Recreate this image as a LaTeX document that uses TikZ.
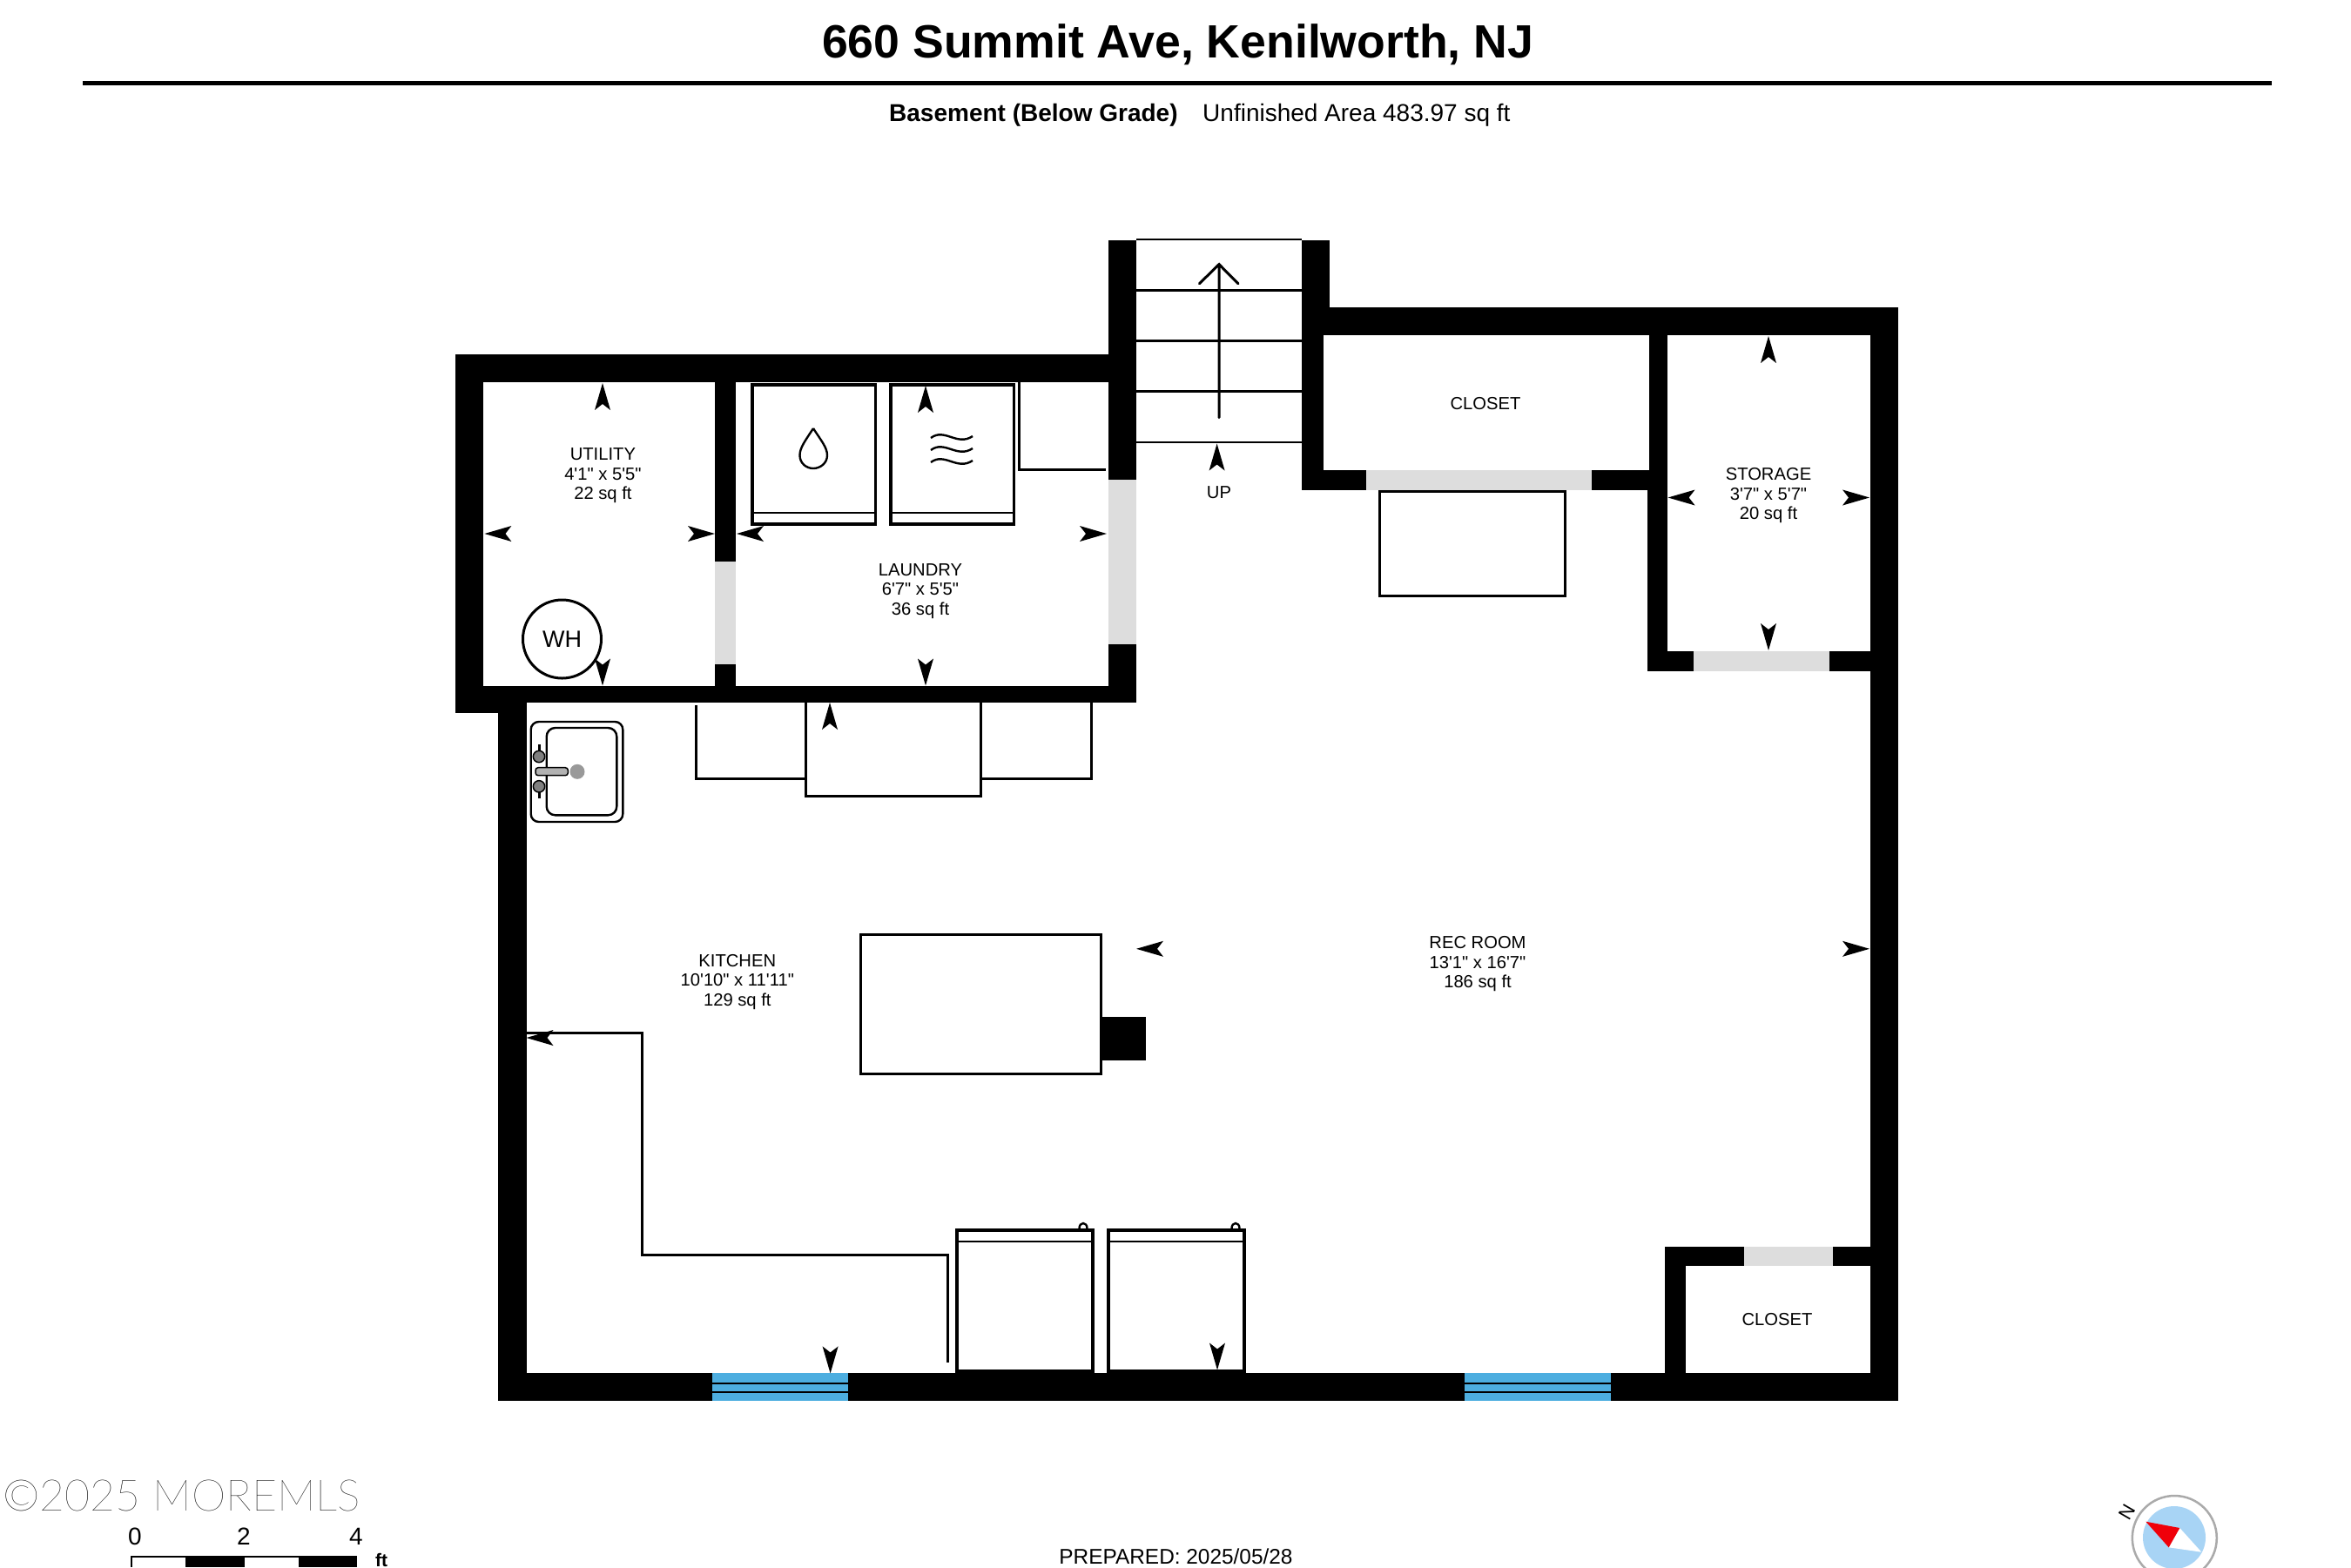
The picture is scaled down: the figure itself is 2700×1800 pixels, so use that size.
\documentclass[tikz,border=0pt]{standalone}
\usepackage{fontspec}
\setmainfont[Ligatures=TeXOff]{Liberation Sans}
\newfontfamily\thinfont{Lato Hairline}
\usetikzlibrary{calc}
\usetikzlibrary{positioning}
\definecolor{wallblack}{RGB}{0, 0, 0}
\definecolor{doorgray}{RGB}{221, 221, 221}
\definecolor{windowblue}{RGB}{77, 174, 224}
\definecolor{compassblue}{RGB}{168, 212, 245}
\definecolor{compassrim}{RGB}{170, 170, 170}
\definecolor{needlered}{RGB}{240, 0, 10}
\tikzset{
    wall/.style={fill=wallblack},
    door/.style={fill=doorgray},
    glass/.style={fill=windowblue},
    fixture/.style={draw=black, line width=3pt},
    hairline/.style={draw=black, line width=2.4pt},
    roomlabel/.style={align=center, inner sep=0pt, font=\fontsize{20.2}{22.5}\selectfont},
    dimtip/.pic={\fill[black] (0,0) -- (-31,9) -- (-24,0) -- (-31,-9) -- cycle;}
}
\begin{document}
\begin{tikzpicture}[x=1pt, y=-1pt]
            \useasboundingbox (0,0) rectangle (2700,1800);
            \fill[white]                    (0,0)           rectangle (2700,1800);
            \node[font=\fontsize{53.6}{60}\bfseries\selectfont] (title) at (1352.6,51) {660 Summit Ave, Kenilworth, NJ};
            \fill[black]                    (94.7,93.2)     rectangle (2609,97.8);
            \node[anchor=west, inner sep=0pt, font=\fontsize{28}{32}\bfseries\selectfont] (level) at (1021,132.5) {Basement (Below Grade)};
            \node[anchor=west, inner sep=0pt, font=\fontsize{28}{32}\selectfont] (area) at (1381,132.5) {Unfinished Area 483.97 sq ft};
            \fill[wall]                     (522.8,406.7)   rectangle (1305,438.8);
            \fill[wall]                     (522.8,406.7)   rectangle (555.3,818.8);
            \fill[wall]                     (522.8,787.5)   rectangle (1304.5,806.7);
            \fill[wall]                     (522.8,787.5)   rectangle (604.5,818.8);
            \fill[wall]                     (821,438.8)     rectangle (845,787.5);
            \fill[wall]                     (1273,276)      rectangle (1305,806.7);
            \fill[wall]                     (572,806)       rectangle (604.5,1608.7);
            \fill[wall]                     (572,1577)      rectangle (2179.7,1608.7);
            \fill[wall]                     (2147.7,353)    rectangle (2179.7,1608.7);
            \fill[wall]                     (1495,353)      rectangle (2179.7,385);
            \fill[wall]                     (1495,276)      rectangle (1527.4,353);
            \fill[wall]                     (1495,353)      rectangle (1520,563);
            \fill[wall]                     (1495,540)      rectangle (1915,563);
            \fill[wall]                     (1894,385)      rectangle (1915,540);
            \fill[wall]                     (1892,540)      rectangle (1915,770.5);
            \fill[wall]                     (1892,747.5)    rectangle (2147.7,770.5);
            \fill[wall]                     (1912,1431.7)   rectangle (1936,1577);
            \fill[wall]                     (1912,1431.7)   rectangle (2147.7,1454.3);
            \fill[wall]                     (1264.7,1167.5) rectangle (1316.4,1217.6);
            \fill[door]                     (821,645)       rectangle (845,763.4);
            \fill[door]                     (1273,551)      rectangle (1305,740);
            \fill[door]                     (1569,540)      rectangle (1828,563);
            \fill[door]                     (1945,747.5)    rectangle (2101,770.5);
            \fill[door]                     (2003,1431.7)   rectangle (2105,1454.3);
            \fill[glass]                    (817.5,1577)    rectangle (973.7,1608.7);
            \fill[glass]                    (1682.2,1577)   rectangle (1849.5,1608.7);
            \draw[hairline] (817.5,1589) -- (973.7,1589) (817.5,1599) -- (973.7,1599);
            \draw[hairline] (1682.2,1589) -- (1849.5,1589) (1682.2,1598.7) -- (1849.5,1598.7);
            \draw[hairline] (1305,275) -- (1495,275) (1305,333.4) -- (1495,333.4) (1305,391.6) -- (1495,391.6);
            \draw[hairline] (1305,449.4) -- (1495,449.4) (1305,508) -- (1495,508);
            \draw[fixture, line cap=round] (1400,479.6) -- (1400,303.6) (1377.4,325.8) -- (1400,303.6) -- (1422,325.8);
            \draw[fixture, line width=3.5pt] (864,442) rectangle (1005.5,602);
            \draw[fixture, line width=3.5pt] (1023,442) rectangle (1164.5,602);
            \draw[hairline] (864,589) -- (1005.5,589) (1023,589) -- (1164.5,589);
            \draw[hairline] (934,492) .. controls (925,506) and (918.5,514) .. (918.5,523) .. controls (918.5,532) and (926,538) .. (934,538) .. controls (942,538) and (950,532) .. (950,523) .. controls (950,514) and (943,506) .. (934,492);
            \foreach \wavey in {500,514,528}
                \draw[hairline] (1069,\wavey+3) .. controls (1085,\wavey-9) and (1099,\wavey+13) .. (1117,\wavey+1);
            \draw[fixture] (1170.6,438.8) -- (1170.6,539.3) -- (1270,539.3);
            \draw[fixture] (799,810) -- (799,894) -- (925.5,894);
            \draw[fixture] (925.5,806.7) -- (925.5,914) -- (1126.7,914) -- (1126.7,806.7);
            \draw[fixture] (1126.7,894) -- (1253.5,894) -- (1253.5,806.7);
            \draw[fixture] (1584.3,564.6) rectangle (1797.5,684.4);
            \draw[fixture] (988,1073) rectangle (1264.7,1233.7);
            \draw[fixture] (604.5,1186) -- (737.7,1186) -- (737.7,1441) -- (1088,1441) -- (1088,1564.7);
            \draw[fixture, line width=4pt] (1098.5,1413) rectangle (1254.7,1574.6);
            \draw[fixture, line width=4pt] (1273,1413) rectangle (1429,1574.6);
            \draw[hairline] (1098.5,1426) -- (1254.7,1426) (1273,1426) -- (1429,1426);
            \draw[hairline] (1239.5,1411) .. controls (1239.5,1403) and (1248.5,1403) .. (1248.5,1411);
            \draw[hairline] (1414.5,1411) .. controls (1414.5,1403) and (1423.5,1403) .. (1423.5,1411);
            \draw[hairline, rounded corners=9pt] (609.7,829) rectangle (715.3,944);
            \draw[hairline, rounded corners=10pt] (627.7,836) rectangle (708.3,936.3);
            \draw[black, line width=3pt] (619,855) -- (619,864) (619,910) -- (619,917);
            \filldraw[fill=gray, draw=black, line width=1.5pt] (619,869) circle (6.7pt);
            \filldraw[fill=gray, draw=black, line width=1.5pt] (619,903.3) circle (6.7pt);
            \filldraw[fill=gray!60, draw=black, line width=1.5pt, rounded corners=3pt] (615,881.7) rectangle (652.3,890.7);
            \fill[gray!80]                  (663,886.3)     circle (8.5pt);
            \node[fixture, circle, minimum size=90pt, inner sep=0pt, font=\fontsize{27}{30}\selectfont] (heater) at (645.5,734) {WH};
            \node[roomlabel] (utility) at (692.4,546.3) {UTILITY\\4'1" x 5'5"\\22 sq ft};
            \node[roomlabel] (laundry) at (1057,678.7) {LAUNDRY\\6'7" x 5'5"\\36 sq ft};
            \node[roomlabel] (kitchen) at (846.8,1127.7) {KITCHEN\\10'10" x 11'11"\\129 sq ft};
            \node[roomlabel] (recroom) at (1697,1107.2) {REC ROOM\\13'1" x 16'7"\\186 sq ft};
            \node[roomlabel] (storage) at (2031,569.3) {STORAGE\\3'7" x 5'7"\\20 sq ft};
            \node[roomlabel] (closetupper) at (1706,463.5) {CLOSET};
            \node[roomlabel] (closetlower) at (2041,1515.7) {CLOSET};
            \node[roomlabel] (stairsup) at (1400,566) {UP};
            \pic[rotate=90]  at (692,440)     {dimtip};
            \pic[rotate=180] at (556.4,613)   {dimtip};
            \pic             at (821,613)     {dimtip};
            \pic[rotate=270] at (692,787.5)   {dimtip};
            \pic[rotate=180] at (846,613)     {dimtip};
            \pic             at (1271,613)    {dimtip};
            \pic[rotate=90]  at (1063,443)    {dimtip};
            \pic[rotate=270] at (1063,787.5)  {dimtip};
            \pic[rotate=90]  at (953,807)     {dimtip};
            \pic[rotate=180] at (604.5,1192)  {dimtip};
            \pic[rotate=270] at (953.6,1577.4) {dimtip};
            \pic[rotate=270] at (1398,1573.5) {dimtip};
            \pic[rotate=180] at (1305,1089.8) {dimtip};
            \pic             at (2147,1089.8) {dimtip};
            \pic[rotate=90]  at (1397.6,509.5) {dimtip};
            \pic[rotate=90]  at (2031,386)    {dimtip};
            \pic[rotate=180] at (1915.6,571.5) {dimtip};
            \pic             at (2147,571.5)  {dimtip};
            \pic[rotate=270] at (2031,747)    {dimtip};
            \node[anchor=west, inner sep=0pt, font=\fontsize{50}{56}\selectfont\thinfont] (watermark) at (3,1717.5) {©2025 MOREMLS};
            \node[font=\fontsize{28}{32}\selectfont] (scalezero) at (155,1765) {0};
            \node[font=\fontsize{28}{32}\selectfont] (scaletwo) at (280,1765) {2};
            \node[font=\fontsize{28}{32}\selectfont] (scalefour) at (409,1765) {4};
            \node[anchor=base, inner sep=0pt, font=\fontsize{21}{24}\bfseries\selectfont] (scaleunit) at (438,1799.6) {ft};
            \fill[black]                    (213,1788)      rectangle (280.7,1800);
            \fill[black]                    (343,1788)      rectangle (410,1800);
            \draw[hairline] (151,1800) -- (151,1788) -- (410,1788);
            \node[font=\fontsize{24.4}{28}\selectfont] (prepared) at (1350.5,1788) {PREPARED: 2025/05/28};
            \filldraw[draw=compassrim, fill=white, line width=2.5pt] (2497.3,1766.5) circle (48.5pt);
            \fill[compassblue]              (2497,1766)     circle (36pt);
            \fill[white]                    (2503.3,1755) -- (2528.3,1782.7) -- (2490.7,1777.3) -- cycle;
            \fill[needlered]                (2464.3,1747.7) -- (2503.3,1755) -- (2490.7,1777.3) -- cycle;
            \node[rotate=60, inner sep=0pt, font=\fontsize{22}{24}\selectfont] (north) at (2443,1736.7) {N};
        \end{tikzpicture}
\end{document}
